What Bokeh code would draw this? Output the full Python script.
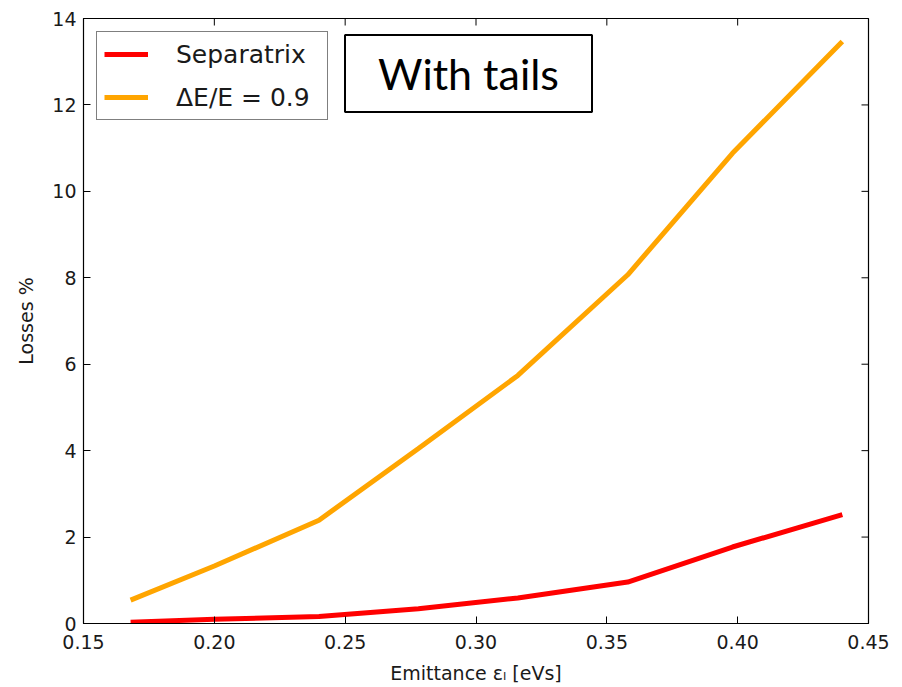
from bokeh.plotting import figure
from bokeh.models import (Range1d, FixedTicker, PrintfTickFormatter,
                          Legend, LegendItem, Label)
from bokeh.embed import file_html
from bokeh.resources import INLINE

# ---- data ----
emittance = [0.168, 0.200, 0.240, 0.278, 0.316, 0.358, 0.398, 0.440]
separatrix = [0.03, 0.10, 0.16, 0.34, 0.59, 0.96, 1.77, 2.52]
de_e_09 = [0.54, 1.33, 2.39, 4.05, 5.74, 8.07, 10.88, 13.47]
x_ticks = [0.15, 0.20, 0.25, 0.30, 0.35, 0.40, 0.45]
y_ticks = [0, 2, 4, 6, 8, 10, 12, 14]
series_names = ["Separatrix", "ΔE/E = 0.9"]
series_colors = ["#ff0000", "#ffa500"]
x_label = "Emittance εₗ [eVs]"
y_label = "Losses %"
box_text = "With tails"

FONT = "DejaVu Sans"
X0, X1, Y0, Y1 = 0.15, 0.45, 0.0, 14.0
W, H = 902, 687
ML, MR, MT, MB = 83, 34, 18, 64
TICK = 7  # px, inward tick length

p = figure(width=W, height=H, output_backend="svg", toolbar_location=None,
           x_range=Range1d(X0, X1), y_range=Range1d(Y0, Y1),
           min_border_left=ML, min_border_right=MR, min_border_top=MT,
           min_border_bottom=MB)
p.background_fill_color = "white"
p.border_fill_color = "white"
p.outline_line_color = "black"
p.outline_line_width = 1.2
p.xgrid.visible = False
p.ygrid.visible = False

for ax, ticks in ((p.xaxis[0], x_ticks), (p.yaxis[0], y_ticks)):
    ax.ticker = FixedTicker(ticks=ticks)
    ax.major_tick_in = TICK
    ax.major_tick_out = 0
    ax.minor_tick_line_color = None
    ax.major_tick_line_color = "black"
    ax.axis_line_color = "black"
    ax.major_label_text_font = FONT
    ax.major_label_text_font_size = "19px"
    ax.major_label_text_color = "#1a1a1a"
    ax.axis_label_text_font = FONT
    ax.axis_label_text_font_style = "normal"
    ax.axis_label_text_font_size = "19px"
    ax.axis_label_text_color = "#1a1a1a"

p.xaxis[0].formatter = PrintfTickFormatter(format="%.2f")
p.xaxis[0].major_label_standoff = 11
p.xaxis[0].axis_label = x_label
p.xaxis[0].axis_label_standoff = 10
p.yaxis[0].major_label_standoff = 7
p.yaxis[0].axis_label = y_label
p.yaxis[0].axis_label_standoff = 12

# inward ticks on the top and right edges of the frame
pw = W - ML - MR
ph = H - MT - MB
dx = TICK * (X1 - X0) / pw
dy = TICK * (Y1 - Y0) / ph
p.segment(x0=x_ticks, y0=[Y1] * len(x_ticks), x1=x_ticks, y1=[Y1 - dy] * len(x_ticks),
          line_color="black", line_width=1)
p.segment(x0=[X1] * len(y_ticks), y0=y_ticks, x1=[X1 - dx] * len(y_ticks), y1=y_ticks,
          line_color="black", line_width=1)

r1 = p.line(emittance, separatrix, line_color=series_colors[0], line_width=5)
r2 = p.line(emittance, de_e_09, line_color=series_colors[1], line_width=5)

legend = Legend(items=[LegendItem(label=series_names[0], renderers=[r1]),
                       LegendItem(label=series_names[1], renderers=[r2])],
                location="top_left", margin=13, padding=7, spacing=13,
                glyph_width=44, glyph_height=30, label_height=30,
                label_width=144,
                label_standoff=28, label_text_font=FONT,
                label_text_font_size="25px", label_text_color="#1a1a1a",
                border_line_color="black", border_line_width=1.5,
                background_fill_color="white", background_fill_alpha=1.0)
p.add_layout(legend)

# "With tails" box
p.add_layout(Label(x=385, y=550, x_units="screen", y_units="screen",
                   text=box_text, text_font="Lato", text_font_size="43px",
                   text_align="center", text_baseline="middle",
                   text_color="black",
                   border_line_color="black", border_line_width=2,
                   background_fill_color="white",
                   padding=dict(left=33, right=33, top=13, bottom=13)))

open("out.html", "w").write(file_html(p, INLINE))
